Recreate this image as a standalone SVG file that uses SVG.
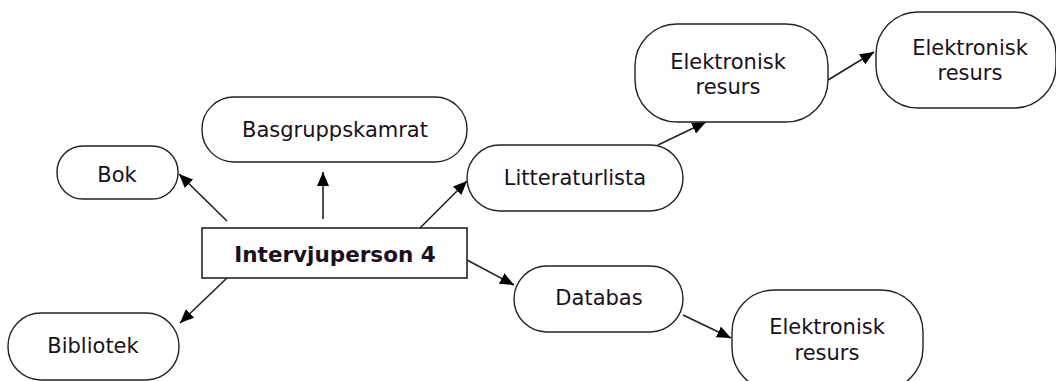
<svg xmlns="http://www.w3.org/2000/svg" width="1056" height="381" viewBox="0 0 1056 381">
<defs>
<marker id="ah" markerUnits="userSpaceOnUse" markerWidth="16" markerHeight="12" refX="14" refY="6" orient="auto">
<path d="M0,0 L14,6 L0,12 Z" fill="#000"/>
</marker>
<style>
.n{fill:#fff;stroke:#222;stroke-width:1.4}
.t{font-family:"DejaVu Sans",Verdana,sans-serif;font-size:21px;fill:#1a1020;text-anchor:middle}
.b{font-weight:bold;font-size:21.5px}
.c{stroke:#222;stroke-width:1.6;fill:none;marker-end:url(#ah)}
</style>
</defs>
<rect width="1056" height="381" fill="#fff"/>
<g id="connectors">
<line class="c" x1="227" y1="221" x2="179" y2="174"/>
<line class="c" x1="323" y1="219" x2="323" y2="172"/>
<line class="c" x1="420" y1="228" x2="467" y2="181"/>
<line class="c" x1="227" y1="278" x2="180" y2="323"/>
<line class="c" x1="467" y1="260" x2="514" y2="285"/>
<line class="c" x1="658" y1="145" x2="706" y2="122"/>
<line class="c" x1="828" y1="80" x2="874" y2="52"/>
<line class="c" x1="683" y1="315" x2="731" y2="338"/>
</g>
<g id="bok">
<rect class="n" x="57" y="146" width="121" height="53" rx="26" ry="26"/>
<text class="t" x="117" y="182">Bok</text>
</g>
<g id="basgruppskamrat">
<rect class="n" x="202" y="97" width="265" height="65" rx="32" ry="32"/>
<text class="t" x="335" y="137">Basgruppskamrat</text>
</g>
<g id="intervjuperson">
<rect x="202" y="228" width="265" height="50" fill="#fff" stroke="#222" stroke-width="1.6"/>
<text class="t b" x="335" y="262">Intervjuperson 4</text>
</g>
<g id="bibliotek">
<rect class="n" x="8" y="313" width="171" height="67" rx="33" ry="33"/>
<text class="t" x="93" y="353">Bibliotek</text>
</g>
<g id="litteraturlista">
<rect class="n" x="467" y="145" width="216" height="66" rx="33" ry="33"/>
<text class="t" x="575" y="185">Litteraturlista</text>
</g>
<g id="elektronisk1">
<rect class="n" x="635" y="24" width="193" height="98" rx="42" ry="42"/>
<text class="t" x="728" y="69">Elektronisk</text>
<text class="t" x="728" y="94">resurs</text>
</g>
<g id="elektronisk2">
<rect class="n" x="876" y="12" width="180" height="96" rx="42" ry="42"/>
<text class="t" x="970" y="55">Elektronisk</text>
<text class="t" x="970" y="80">resurs</text>
</g>
<g id="databas">
<rect class="n" x="514" y="266" width="169" height="66" rx="33" ry="33"/>
<text class="t" x="599" y="305">Databas</text>
</g>
<g id="elektronisk3">
<rect class="n" x="732" y="290" width="191" height="100" rx="42" ry="42"/>
<text class="t" x="827" y="334">Elektronisk</text>
<text class="t" x="827" y="360">resurs</text>
</g>
</svg>
